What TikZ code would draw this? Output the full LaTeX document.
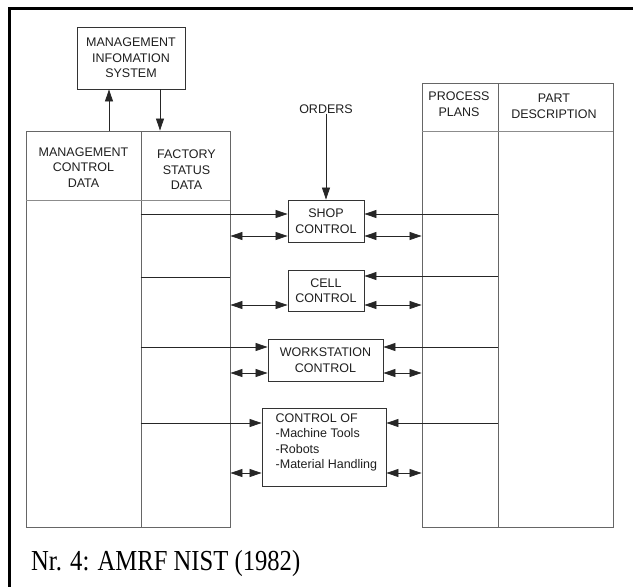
\documentclass[tikz,border=0pt]{standalone}
\usepackage{fontspec}
\setmainfont{Liberation Sans}
\newfontfamily\capfont{Liberation Serif}[FakeStretch=0.85]
\usetikzlibrary{arrows.meta}

\begin{document}
\begin{tikzpicture}[x=1pt,y=-1pt,
  txt/.style={font=\fontsize{12.5}{15.5}\selectfont, text=black!88, align=center, inner sep=0pt},
  box/.style={draw=black!80, line width=0.9pt, inner sep=0pt, txt},
  col/.style={draw=black!60, line width=0.9pt, inner sep=0pt},
  hdr/.style={draw=black!45, line width=0.9pt},
  link/.style={draw=black!85, line width=0.8pt},
  tip/.style={link, -{Triangle[length=12pt,width=8pt]}},
  dbl/.style={link, {Triangle[length=12pt,width=8pt]}-{Triangle[length=12pt,width=8pt]}}
]
\useasboundingbox (0,0) rectangle (633,587);
\fill[white] (0,0) rectangle (633,587);

% outer frame (top and left edges)
\draw[line width=3pt, line join=miter] (633,8) -- (9,8) -- (9,587);

% management information system
\node[box, minimum width=108pt, minimum height=62pt] (mis) at (131,58)
  {MANAGEMENT\\INFOMATION\\SYSTEM};

% left data table
\node[col, minimum width=115pt, minimum height=396pt] (mcd) at (83.5,329) {};
\node[col, minimum width=89pt, minimum height=396pt] (fsd) at (185.5,329) {};
\draw[hdr] (mcd.west |- 0,200) -- (fsd.east |- 0,200);
\node[txt] (mcdt) at (83.5,167.5) {MANAGEMENT\\CONTROL\\DATA};
\node[txt] (fsdt) at (186.5,170) {FACTORY\\STATUS\\DATA};

% right data table
\node[col, minimum width=76pt, minimum height=444pt] (pp) at (460,305) {};
\node[col, minimum width=115pt, minimum height=444pt] (pd) at (555.5,305) {};
\draw[hdr] (pp.west |- 0,131) -- (pd.east |- 0,131);
\node[txt] (ppt) at (459,104) {PROCESS\\PLANS};
\node[txt] (pdt) at (554,106.5) {PART\\DESCRIPTION};

% control hierarchy
\node[txt] (orders) at (326,109) {ORDERS};
\node[box, minimum width=76pt, minimum height=42pt] (shop) at (326,221) {SHOP\\CONTROL};
\node[box, minimum width=76pt, minimum height=41pt] (cell) at (326,290.5) {CELL\\CONTROL};
\node[box, minimum width=115pt, minimum height=42pt] (ws) at (325.5,360) {WORKSTATION\\CONTROL};
\node[box, minimum width=124pt, minimum height=78pt] (ctl) at (324,447) {};
\node[txt, align=left, anchor=north west] (ctlt) at (275.5,413.5)
  {CONTROL OF\\-Machine Tools\\-Robots\\-Material Handling};

% information system links
\draw[tip] (109,0 |- mcd.north) -- (109,0 |- mis.south);
\draw[tip] (160,0 |- mis.south) -- (160,0 |- fsd.north);
\draw[tip] (orders.south) -- (shop.north);

% status data feeding each level
\draw[tip]  (fsd.west |- 0,214) -- (shop.west |- 0,214);
\draw[link] (fsd.west |- 0,277) -- (fsd.east |- 0,277);
\draw[tip]  (fsd.west |- 0,347) -- (ws.west |- 0,347);
\draw[tip]  (fsd.west |- 0,423) -- (ctl.west |- 0,423);

% part descriptions feeding each level
\draw[tip] (pd.west |- 0,214) -- (shop.east |- 0,214);
\draw[tip] (pd.west |- 0,276) -- (cell.east |- 0,276);
\draw[tip] (pd.west |- 0,347) -- (ws.east |- 0,347);
\draw[tip] (pd.west |- 0,423) -- (ctl.east |- 0,423);

% two-way exchanges with both tables
\draw[dbl] (fsd.east |- 0,236) -- (shop.west |- 0,236);
\draw[dbl] (shop.east |- 0,236) -- (pp.west |- 0,236);
\draw[dbl] (fsd.east |- 0,305) -- (cell.west |- 0,305);
\draw[dbl] (cell.east |- 0,305) -- (pp.west |- 0,305);
\draw[dbl] (fsd.east |- 0,373) -- (ws.west |- 0,373);
\draw[dbl] (ws.east |- 0,373) -- (pp.west |- 0,373);
\draw[dbl] (fsd.east |- 0,473) -- (ctl.west |- 0,473);
\draw[dbl] (ctl.east |- 0,473) -- (pp.west |- 0,473);

% caption
\node[anchor=base west, inner sep=0pt, font=\capfont\fontsize{29}{29}\selectfont] (cap)
  at (31,570) {Nr. 4: AMRF NIST (1982)};
\end{tikzpicture}
\end{document}
